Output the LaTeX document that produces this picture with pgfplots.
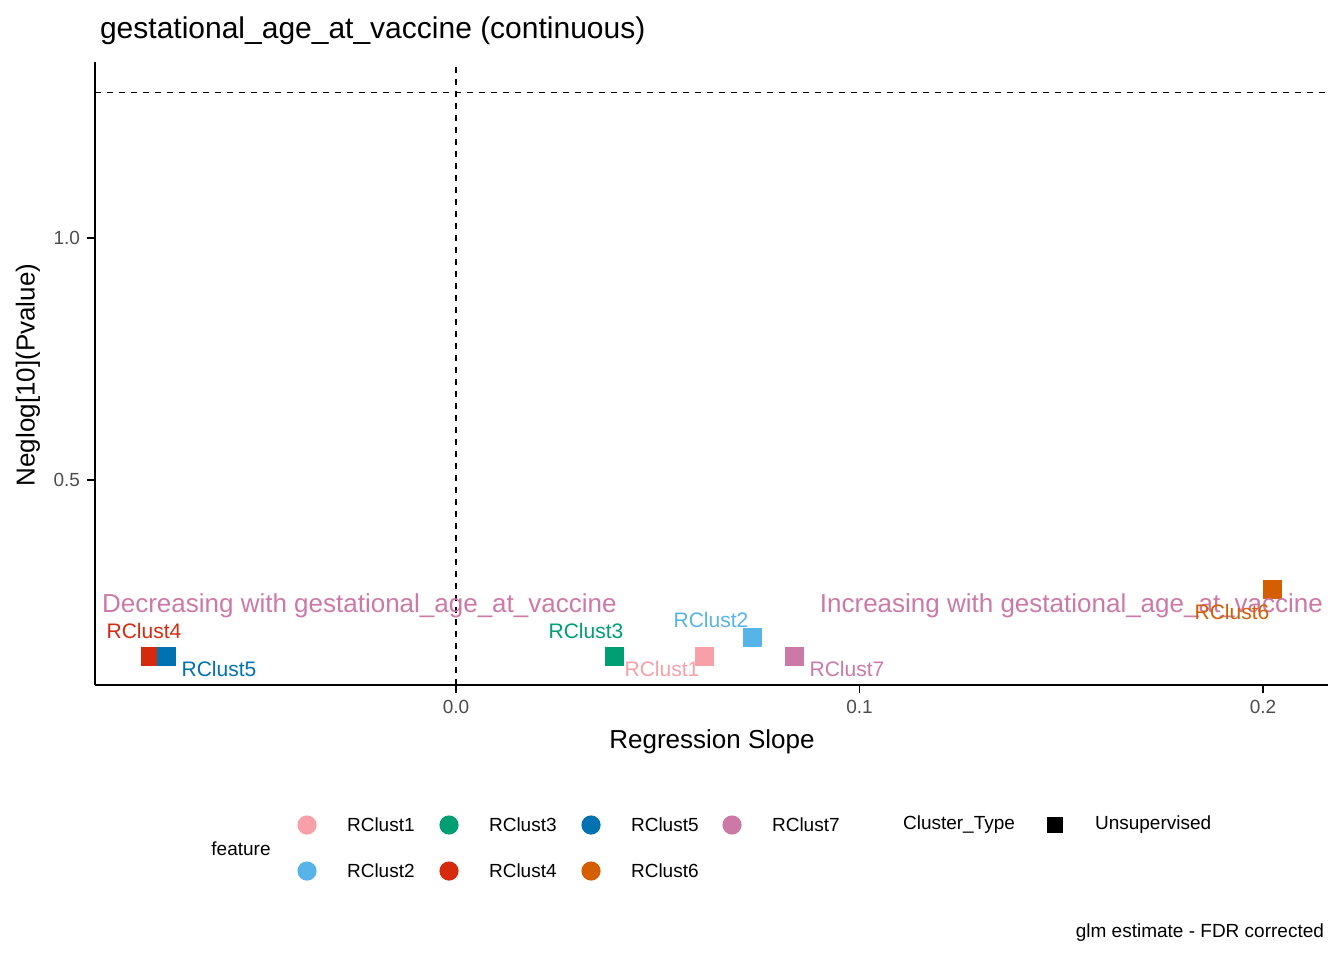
\documentclass[border=0pt]{standalone}
\usepackage{pgfplots}
\pgfplotsset{compat=1.18}
\usepackage{fontspec}
\setmainfont{Liberation Sans}
\definecolor{c1}{HTML}{F8A0A8}
\definecolor{c2}{HTML}{56B4E9}
\definecolor{c3}{HTML}{009E73}
\definecolor{c4}{HTML}{D62A0F}
\definecolor{c5}{HTML}{0072B2}
\definecolor{c6}{HTML}{D55E00}
\definecolor{c7}{HTML}{CC79A7}
\newcommand{\PP}[2]{({(#1)*0.5pt},{(960-(#2))*0.5pt})}
\begin{document}
\begin{tikzpicture}
\path[use as bounding box] (0,0) rectangle (672pt,480pt);
\begin{axis}[at={(47.5pt,137.5pt)},anchor=south west,scale only axis,
 width=616.5pt,height=311.5pt,
 xmin=-0.0895,xmax=0.2161,ymin=0.0764,ymax=1.364,
 axis x line*=bottom, axis y line*=left, axis line style={-,thick},
 xtick={0,0.1,0.2}, ytick={0.5,1.0},
 xticklabels={0.0,0.1,0.2}, yticklabels={0.5,1.0},
 tick align=outside, tick style={black,thick}, major tick length=4pt,
 ticklabel style={font=\fontsize{9.5}{11}\selectfont, text=black!70},
 clip=false]
\draw[dashed,thick] (axis cs:-0.0895,1.301) -- (axis cs:0.2161,1.301);
\draw[dashed,thick] (axis cs:0,0.0764) -- (axis cs:0,1.364);
\addplot[only marks,mark=square*,mark size=4.5pt,c1,mark options={fill=c1}] coordinates {(0.0615,0.136)};
\addplot[only marks,mark=square*,mark size=4.5pt,c2,mark options={fill=c2}] coordinates {(0.0734,0.174)};
\addplot[only marks,mark=square*,mark size=4.5pt,c3,mark options={fill=c3}] coordinates {(0.0392,0.136)};
\addplot[only marks,mark=square*,mark size=4.5pt,c4,mark options={fill=c4}] coordinates {(-0.0758,0.136)};
\addplot[only marks,mark=square*,mark size=4.5pt,c5,mark options={fill=c5}] coordinates {(-0.0719,0.136)};
\addplot[only marks,mark=square*,mark size=4.5pt,c6,mark options={fill=c6}] coordinates {(0.2022,0.275)};
\addplot[only marks,mark=square*,mark size=4.5pt,c7,mark options={fill=c7}] coordinates {(0.0838,0.136)};
\end{axis}
\begin{scope}[font=\fontsize{13}{15}\selectfont]
\node[anchor=west,text=c7] at \PP{95}{606} {Decreasing with gestational\_age\_at\_vaccine};
\node[anchor=east,text=c7] at \PP{1330}{606} {Increasing with gestational\_age\_at\_vaccine};
\end{scope}
\begin{scope}[font=\fontsize{10.5}{12}\selectfont]
\node[text=c4] at \PP{144}{631} {RClust4};
\node[text=c5] at \PP{219}{669} {RClust5};
\node[text=c3] at \PP{586}{631} {RClust3};
\node[text=c1] at \PP{662}{669} {RClust1};
\node[text=c2] at \PP{711}{620} {RClust2};
\node[text=c7] at \PP{847}{669} {RClust7};
\node[text=c6] at \PP{1232}{612} {RClust6};
\end{scope}
\node[anchor=west,font=\fontsize{15}{18}\selectfont] at \PP{93}{31} {gestational\_age\_at\_vaccine (continuous)};
\node[rotate=90,font=\fontsize{13}{15}\selectfont] at \PP{28}{375} {Neglog[10](Pvalue)};
\node[font=\fontsize{13}{15}\selectfont] at \PP{712}{742} {Regression Slope};
\begin{scope}[font=\fontsize{9.5}{11}\selectfont]
\node at \PP{241}{849} {feature};
\foreach \x/\y/\c/\t in {307/825/c1/RClust1,449/825/c3/RClust3,591/825/c5/RClust5,732/825/c7/RClust7,307/871/c2/RClust2,449/871/c4/RClust4,591/871/c6/RClust6}{
 \fill[\c] \PP{\x}{\y} circle (4.8pt);
 \node[anchor=west] at \PP{\x+33}{\y} {\t};
}
\node[anchor=west] at \PP{896}{825} {Cluster\_Type};
\fill[black] \PP{1047}{817} rectangle \PP{1063}{833};
\node[anchor=west] at \PP{1088}{825} {Unsupervised};
\node[anchor=east] at \PP{1331}{933} {glm estimate - FDR corrected};
\end{scope}
\end{tikzpicture}
\end{document}
